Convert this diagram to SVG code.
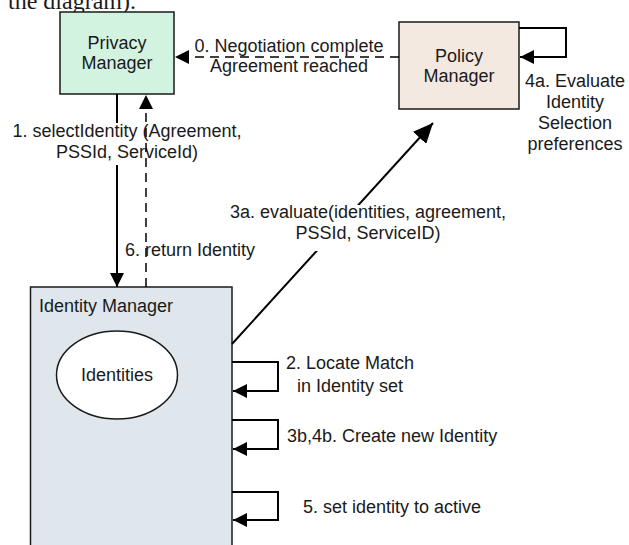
<svg xmlns="http://www.w3.org/2000/svg" width="629" height="545" viewBox="0 0 629 545">
<defs>
<style>
text{font-family:"Liberation Sans",Arial,sans-serif;font-size:18px;fill:#1a1a1a}
.c{text-anchor:middle}
.box{stroke:#1a1a1a;stroke-width:1.5}
.ln{fill:none;stroke:#000;stroke-width:2}
.dash{fill:none;stroke:#000;stroke-width:1.5;stroke-dasharray:9 6}
</style>
<marker id="ah" markerUnits="userSpaceOnUse" markerWidth="16" markerHeight="14" refX="14" refY="7" orient="auto">
<path d="M0,0 L14,7 L0,14 Z" fill="#000"/>
</marker>
<marker id="ahL" markerUnits="userSpaceOnUse" markerWidth="22" markerHeight="18" refX="20" refY="9" orient="auto">
<path d="M0,0 L20,9 L0,18 Z" fill="#000"/>
</marker>
</defs>
<rect width="629" height="545" fill="#fff"/>
<text x="8" y="9" style="font-family:'Liberation Serif','Times New Roman',serif;font-size:24px">the diagram).</text>

<g id="privacy-manager">
<rect class="box" x="60" y="12" width="114" height="82" fill="#d3f3e1"/>
<text class="c" x="117" y="49">Privacy</text>
<text class="c" x="117" y="69">Manager</text>
</g>

<g id="policy-manager">
<rect class="box" x="399" y="22" width="120" height="87" fill="#f3e9e0"/>
<text class="c" x="459" y="62">Policy</text>
<text class="c" x="459" y="82">Manager</text>
</g>

<g id="identity-manager">
<rect class="box" x="30.5" y="287" width="201.5" height="280" fill="#dfe7ed"/>
<text x="39" y="312">Identity Manager</text>
<g id="identities">
<ellipse cx="117" cy="375" rx="60.5" ry="44" fill="#fff" stroke="#1a1a1a" stroke-width="1.5"/>
<text class="c" x="117" y="381">Identities</text>
</g>
</g>

<g id="connectors">
<line class="ln" x1="117" y1="94" x2="117" y2="287" marker-end="url(#ah)"/>
<rect x="10" y="123" width="236" height="42" fill="#fff"/>
<text class="c" x="127" y="137">1. selectIdentity (Agreement,</text>
<text class="c" x="127" y="158">PSSId, ServiceId)</text>
<line class="dash" x1="146" y1="287" x2="146" y2="95" marker-end="url(#ah)"/>
<text x="125" y="256">6. return Identity</text>

<line class="dash" x1="399" y1="57" x2="175" y2="57" marker-end="url(#ah)"/>
<text class="c" x="289" y="52">0. Negotiation complete</text>
<text class="c" x="289" y="72">Agreement reached</text>

<path class="ln" d="M519,28 H566 V57 H520" marker-end="url(#ah)"/>
<text class="c" x="575" y="87">4a. Evaluate</text>
<text class="c" x="575" y="108">Identity</text>
<text class="c" x="575" y="129">Selection</text>
<text class="c" x="575" y="150">preferences</text>

<line class="ln" x1="232" y1="344" x2="433" y2="123" marker-end="url(#ahL)"/>
<rect x="258" y="205" width="232" height="46" fill="#fff"/>
<text class="c" x="368" y="218">3a. evaluate(identities, agreement,</text>
<text class="c" x="368" y="239">PSSId, ServiceID)</text>

<path class="ln" d="M232,362 H278 V391 H233" marker-end="url(#ah)"/>
<text class="c" x="350" y="369">2. Locate Match</text>
<text class="c" x="350" y="392">in Identity set</text>

<path class="ln" d="M232,420 H278 V449 H233" marker-end="url(#ah)"/>
<text x="287" y="442">3b,4b. Create new Identity</text>

<path class="ln" d="M232,492 H278 V520 H233" marker-end="url(#ah)"/>
<text x="303" y="513">5. set identity to active</text>
</g>
</svg>
